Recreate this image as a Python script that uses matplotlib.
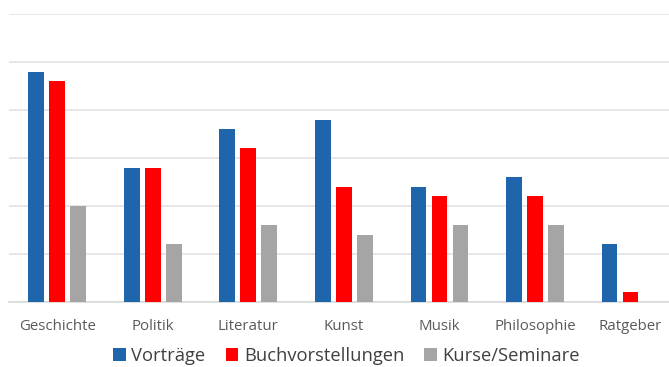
import numpy as np
import matplotlib.pyplot as plt

# Veranstaltungsarten je Themenbereich
kategorien = ["Geschichte", "Politik", "Literatur", "Kunst", "Musik", "Philosophie", "Ratgeber"]
vortraege = [9.6, 5.6, 7.2, 7.6, 4.8, 5.2, 2.4]
buchvorstellungen = [9.2, 5.6, 6.4, 4.8, 4.4, 4.4, 0.4]
kurse = [4.0, 2.4, 3.2, 2.8, 3.2, 3.2, 0.0]
serien = ["Vorträge", "Buchvorstellungen", "Kurse/Seminare"]
farben = ["#1F65AC", "#FF0000", "#A5A5A5"]

plt.rcParams["font.family"] = ["Open Sans", "DejaVu Sans"]

fig = plt.figure(figsize=(6.69, 3.67), dpi=100)
ax = fig.add_axes([0.014, 0.177, 1.0, 0.785])

x = np.arange(len(kategorien))
breite = 0.165
abstand = 0.22
for i, (werte, farbe, name) in enumerate(zip([vortraege, buchvorstellungen, kurse], farben, serien)):
    ax.bar(x + (i - 1) * abstand, werte, breite, color=farbe, label=name, zorder=3)

ax.set_xlim(-0.5, len(kategorien) - 0.5)
ax.set_ylim(0, 12)
ax.set_yticks(np.arange(0, 13, 2))
ax.yaxis.grid(True, color="#E3E3E3", linewidth=1.2, zorder=0)
ax.tick_params(axis="y", left=False, labelleft=False)
ax.tick_params(axis="x", bottom=False, labelsize=10.8, labelcolor="#595959", pad=8.5)
ax.set_xticks(x)
ax.set_xticklabels(kategorien)
for s in ["top", "left", "right"]:
    ax.spines[s].set_visible(False)
ax.spines["bottom"].set_color("#D9D9D9")
ax.spines["bottom"].set_linewidth(1.2)

fig.legend(loc="lower center", bbox_to_anchor=(0.518, -0.04), ncol=3, frameon=False,
           fontsize=13.2, handlelength=0.7, handleheight=0.7, handletextpad=0.3,
           columnspacing=1.1, labelcolor="#404040")

fig.savefig("out.png", dpi=100)
